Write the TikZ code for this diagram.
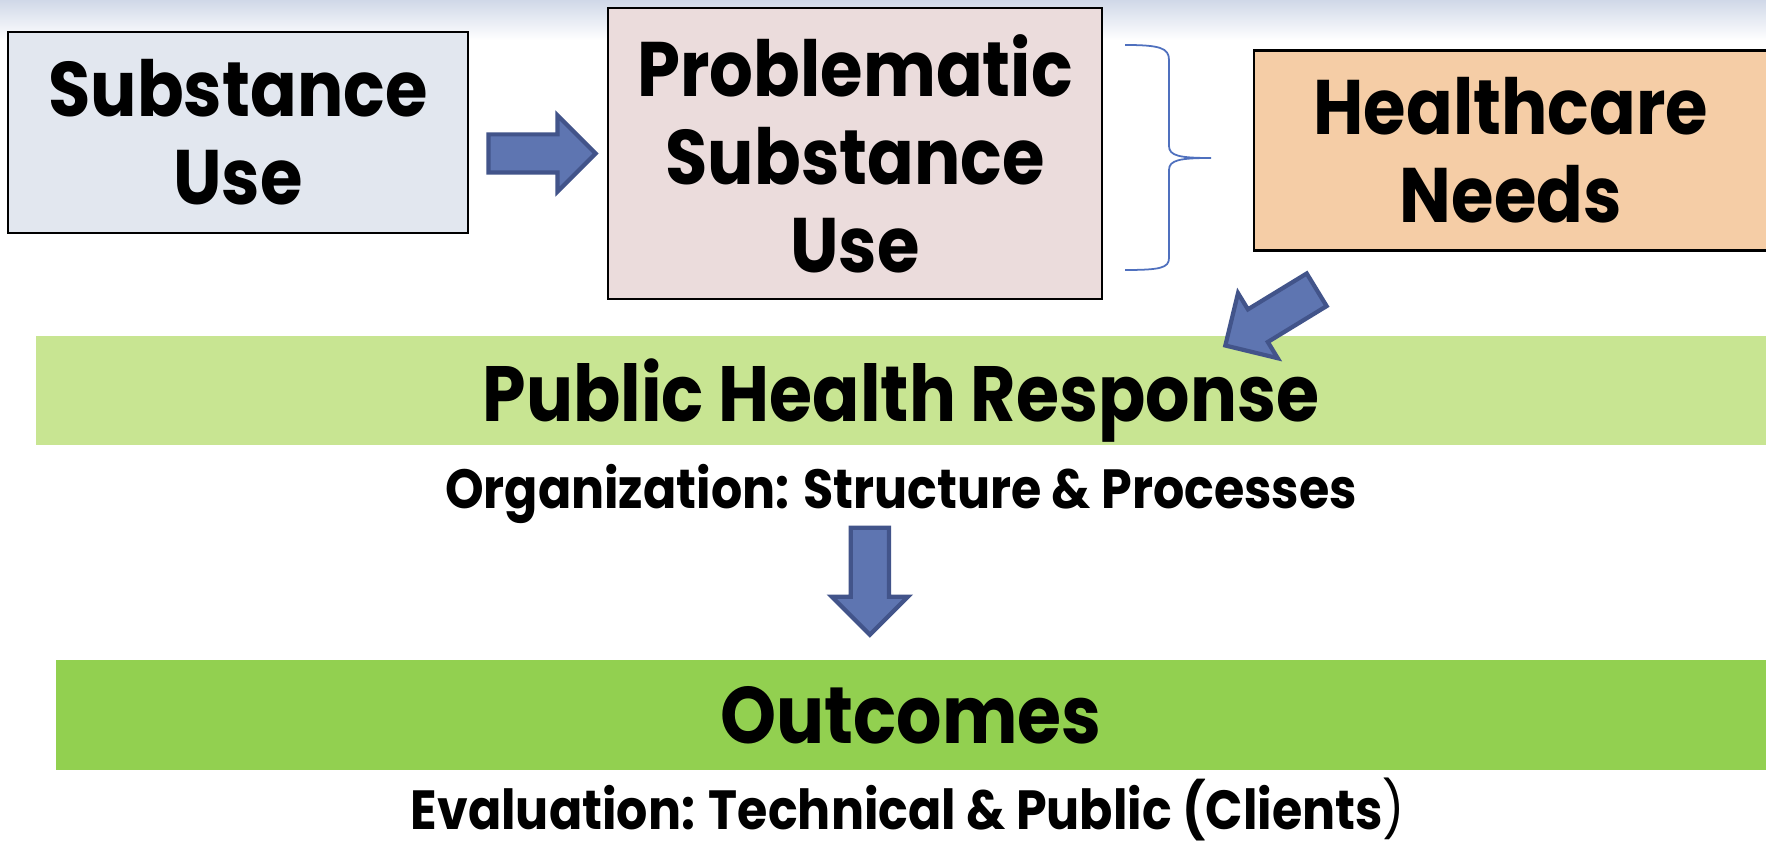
\documentclass[tikz,border=0pt]{standalone}
\usepackage{fontspec}
\setmainfont{Poppins}[FakeStretch=0.89]
\usetikzlibrary{positioning,calc,shapes.arrows}
\definecolor{suFill}{RGB}{226,231,239}
\definecolor{psFill}{RGB}{235,220,220}
\definecolor{hnFill}{RGB}{245,205,166}
\definecolor{phFill}{RGB}{200,229,146}
\definecolor{ocFill}{RGB}{146,208,80}
\definecolor{arrFill}{RGB}{94,117,177}
\definecolor{arrLine}{RGB}{66,84,138}
\definecolor{braceCol}{RGB}{79,112,190}
\definecolor{topShade}{RGB}{208,216,232}
\tikzset{
  box/.style={draw=black, line width=0.6pt, inner sep=0pt, align=center, font=\fontsize{22}{25}\selectfont\bfseries},
  bar/.style={inner sep=0pt, text depth=0pt, font=\fontsize{22.3}{25}\selectfont\bfseries},
  note/.style={inner sep=0pt, font=\fontsize{15.7}{19}\selectfont\bfseries},
  blockarrow/.style={single arrow, draw=arrLine, fill=arrFill, line width=1.2pt, minimum height=1.07cm, minimum width=0pt, inner xsep=0pt, inner ysep=0.17cm, single arrow head extend=0.19cm, single arrow tip angle=90, sloped, allow upside down},
}

\begin{document}
\begin{tikzpicture}
    \useasboundingbox (0,0) rectangle (17.66,8.46);
    \fill [white] (0,0) rectangle (17.66,8.46);
    \shade [top color=topShade, bottom color=white] (0,8.06) rectangle (17.66,8.46);

    \node [box] [fill=suFill] [minimum width=4.60cm] [minimum height=2.01cm] (su) at (2.38,7.135) {Substance\\Use};
    \node [box] [fill=psFill] [minimum width=4.94cm] [minimum height=2.91cm] [right=1.38cm of su] [yshift=-0.21cm] (ps) {Problematic\\Substance\\Use};
    \node [box] [fill=hnFill] [minimum width=5.13cm] [minimum height=2.00cm] [right=1.50cm of ps] [yshift=0.03cm] (hn) {Healthcare\\Needs};

    \node [bar] [fill=phFill] [minimum width=17.30cm] [minimum height=1.09cm] (ph) at (9.01,4.555) {Public Health Response};
    \node [note] [anchor=base] (org) at ($(ph.south)+(0,-0.63)$) {Organization: Structure \& Processes};
    \node [bar] [fill=ocFill] [minimum width=17.10cm] [minimum height=1.10cm] [font=\fontsize{22.8}{25}\selectfont\bfseries] (oc) at (9.11,1.31) {Outcomes};
    \node [note] [anchor=base] (ev) at ($(oc.south)+(-0.03,-0.59)$) {Evaluation: Technical \& Public (Clients{\mdseries)}};

    \draw [braceCol] [line width=0.5pt] (11.25,8.01) .. controls (11.60,8.01) and (11.69,7.98) .. (11.69,7.86) -- (11.69,7.00)
        .. controls (11.69,6.90) and (11.80,6.88) .. (12.11,6.88)
        .. controls (11.80,6.88) and (11.69,6.86) .. (11.69,6.76) -- (11.69,5.88)
        .. controls (11.69,5.78) and (11.60,5.76) .. (11.25,5.76);

    \coordinate (d) at ($(ph.south west)!0.482!(ph.south east)$);
    \path (su.east |- ps.west) -- node [blockarrow] [pos=0.46] (a1) {} (ps.west);
    \path ($(hn.south west)!0.245!(hn.south east)$) -- node [blockarrow] [pos=0.73] (a2) {} ($(ph.north west)!0.697!(ph.north east)$);
    \path (d) -- node [blockarrow] [pos=0.59] (a3) {} (d |- oc.north);

\end{tikzpicture}
\end{document}
